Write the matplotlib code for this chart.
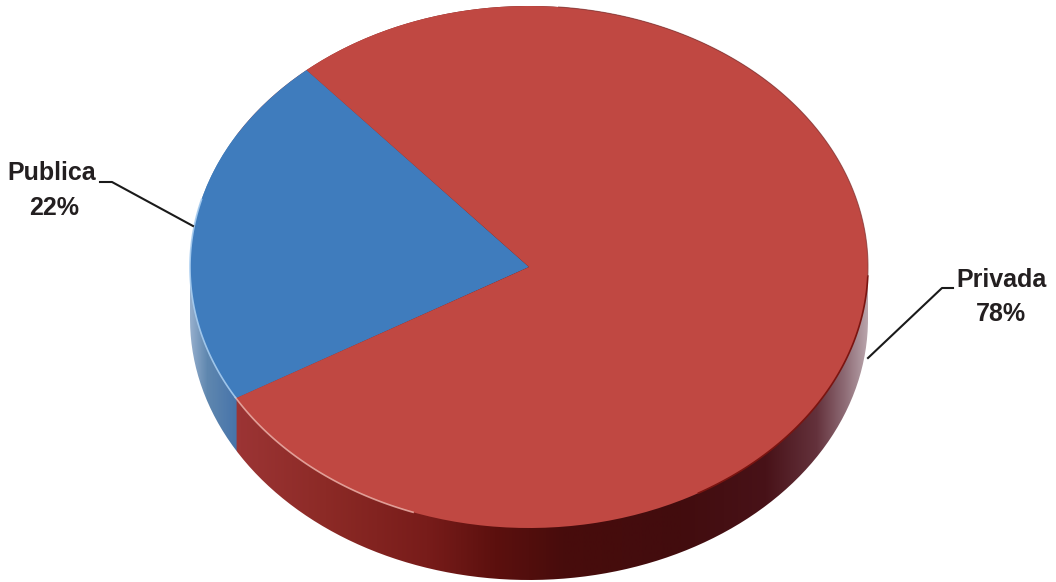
import numpy as np
import matplotlib
matplotlib.use('Agg')
import matplotlib.pyplot as plt
from matplotlib.path import Path
from matplotlib.patches import PathPatch

labels = ['Publica', 'Privada']
values = [22, 78]
percent_labels = ['22%', '78%']
colors = ['#3f7cbd', '#c04842']

W, H = 1056, 582
cx, cy = 529, 267      # centre of the top face, pixels
rx, ry = 339, 261
depth = 52 / ry

plt.rcParams['font.family'] = ['Liberation Sans', 'DejaVu Sans']

fig = plt.figure(figsize=(W / 100, H / 100), dpi=100, facecolor='white')
ax = fig.add_axes([0, 0, 1, 1])

# top face, radius 1 in axes units so the aspect makes it an ellipse
wedges, _ = ax.pie(values, colors=colors, startangle=131, counterclock=True,
				   wedgeprops={'linewidth': 0, 'zorder': 5})
ax.set_aspect('auto')
xlim = (-cx / rx, (W - cx) / rx)
ylim = ((cy - H) / ry, cy / ry)

# side of the disc, shaded along x and clipped to the outline
t = np.radians(wedges[0].theta2)
split_x = np.cos(t)
xs = np.linspace(-1, 1, 800)
red_x = [-1.0, -0.85, -0.6, -0.3, -0.1, 0.1, 0.45, 0.7, 0.85, 0.93, 1.0]
red_r = [170, 155, 140, 120, 92, 72, 66, 72, 100, 140, 185]
red_g = [60, 52, 42, 28, 16, 12, 12, 18, 50, 105, 165]
red_b = [60, 52, 38, 26, 14, 12, 14, 24, 60, 115, 172]
blue_x = [-1.0, -0.95, -0.86]
blue_r = [150, 95, 70]
blue_g = [175, 135, 115]
blue_b = [205, 175, 170]
img = np.zeros((1, len(xs), 3))
for k, (rc, bc) in enumerate(zip((red_r, red_g, red_b), (blue_r, blue_g, blue_b))):
	col = np.interp(xs, red_x, rc)
	col[xs < split_x] = np.interp(xs[xs < split_x], blue_x, bc)
	img[0, :, k] = col / 255
im = ax.imshow(img, extent=(-1, 1, -1 - depth, 1), aspect='auto', zorder=2, interpolation='bilinear')
a = np.linspace(np.pi, 2 * np.pi, 200)
hull = np.vstack([np.column_stack([np.cos(a), np.sin(a) - depth]),
				  np.column_stack([np.cos(a[::-1]), -np.sin(a[::-1])])])
clip = PathPatch(Path(hull), transform=ax.transData, fc='none', ec='none')
ax.add_patch(clip)
im.set_clip_path(clip)

# rim: pale on the lower left, dark on the right, thin edge round the top right
a1 = np.radians(np.linspace(210, 250, 60))
ax.plot(np.cos(a1), np.sin(a1), color='#f0b8b0', lw=1.2, alpha=0.8, zorder=6)
a2 = np.radians(np.linspace(165, 210, 60))
ax.plot(np.cos(a2), np.sin(a2), color='#a8cdf0', lw=1.2, alpha=0.9, zorder=7)
a3 = np.radians(np.linspace(300, 358, 80))
ax.plot(np.cos(a3), np.sin(a3), color='#7a1410', lw=1.2, zorder=6)
a4 = np.radians(np.linspace(-2, 85, 100))
ax.plot(np.cos(a4), np.sin(a4), color='#8a3a38', lw=0.8, alpha=0.7, zorder=6)

ax.set_xlim(xlim)
ax.set_ylim(ylim)
ax.axis('off')

# labels and leader lines in pixel coordinates
top = fig.add_axes([0, 0, 1, 1], facecolor='none')
top.set_xlim(0, W)
top.set_ylim(H, 0)
top.axis('off')
top.plot([100, 112, 193], [182, 182, 226], color='#1a1a1a', lw=1.5)
top.plot([953, 942, 868], [288, 288, 358], color='#1a1a1a', lw=1.5)
top.text(52, 173, labels[0], ha='center', va='center', fontsize=18, fontweight='bold', color='#231f20')
top.text(54, 208, percent_labels[0], ha='center', va='center', fontsize=18, fontweight='bold', color='#231f20')
top.text(1001, 280, labels[1], ha='center', va='center', fontsize=18, fontweight='bold', color='#231f20')
top.text(1001, 314, percent_labels[1], ha='center', va='center', fontsize=18, fontweight='bold', color='#231f20')

fig.savefig('out.png', dpi=100)
